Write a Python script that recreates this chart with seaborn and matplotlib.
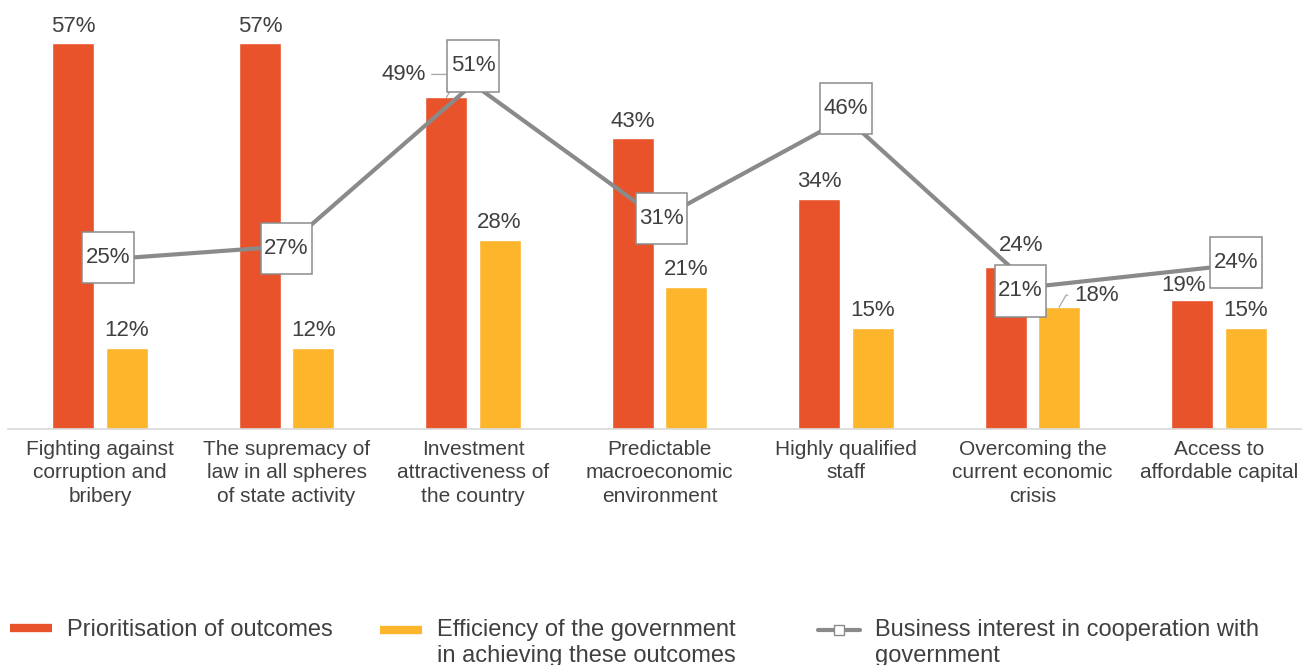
import numpy as np
import pandas as pd
import matplotlib
matplotlib.use("Agg")
import matplotlib.pyplot as plt
from matplotlib.lines import Line2D
from matplotlib.path import Path
from matplotlib.legend_handler import HandlerLine2D
import seaborn as sns

categories = [
    "Fighting against\ncorruption and\nbribery",
    "The supremacy of\nlaw in all spheres\nof state activity",
    "Investment\nattractiveness of\nthe country",
    "Predictable\nmacroeconomic\nenvironment",
    "Highly qualified\nstaff",
    "Overcoming the\ncurrent economic\ncrisis",
    "Access to\naffordable capital",
]
prioritisation = [57, 57, 49, 43, 34, 24, 19]
efficiency = [12, 12, 28, 21, 15, 18, 15]
business_interest = [25, 27, 51, 31, 46, 21, 24]

series_names = ["Prioritisation of outcomes",
                "Efficiency of the government\nin achieving these outcomes"]
line_name = "Business interest in cooperation with\ngovernment"

RED = "#E8532B"
YELLOW = "#FDB52B"
GREY_LINE = "#8a8a8a"
TEXT = "#404040"

sns.set_theme(style="white")
plt.rcParams["font.family"] = ["Liberation Sans", "DejaVu Sans"]
plt.rcParams["text.color"] = TEXT

df = pd.DataFrame({
    "category": categories * 2,
    "series": [series_names[0]] * len(categories) + [series_names[1]] * len(categories),
    "value": prioritisation + efficiency,
})

fig = plt.figure(figsize=(13.02, 6.65), dpi=100)
ax = fig.add_axes([8 / 1302, (665 - 429) / 665, (1302 - 8) / 1302, (429 - 23) / 665])

sns.barplot(data=df, x="category", y="value", hue="series",
            palette=[RED, YELLOW], width=0.57, gap=0.21,
            saturation=1, legend=False, ax=ax)

xs = np.arange(len(categories))
sns.lineplot(x=xs, y=business_interest, color=GREY_LINE, linewidth=3,
             ax=ax, legend=False, zorder=3)

ax.set_xlim(-0.4933, 6.445)
ax.set_ylim(0, 60)
ax.set_xlabel("")
ax.set_ylabel("")
ax.set_yticks([])
ax.tick_params(axis="x", length=0, pad=8, labelsize=15, labelcolor=TEXT)
for lab in ax.get_xticklabels():
    lab.set_linespacing(1.28)
for side in ["top", "left", "right"]:
    ax.spines[side].set_visible(False)
ax.spines["bottom"].set_color("#d9d9d9")
ax.spines["bottom"].set_linewidth(1.2)

half = 0.1425

# bar value labels: (dx, dy) pixel offsets of the text centre from the bar top
red_offsets = [(0, 17), (0, 17), (-43, 23), (0, 17), (0, 17), (15, 21), (-9, 15)]
yellow_offsets = [(0, 17), (0, 17), (0, 17), (0, 17), (0, 17), (37, 12), (0, 17)]
leader_red = {2}
leader_yellow = {5}

def bar_label(x, v, off, leader):
    kw = dict(xy=(x, v), xytext=off, textcoords="offset pixels",
              ha="center", va="center", fontsize=16, color=TEXT, zorder=6)
    if leader:
        kw["arrowprops"] = dict(arrowstyle="-", color="#a6a6a6", lw=0.9,
                                shrinkA=2, shrinkB=0,
                                connectionstyle="angle,angleA=0,angleB=60,rad=0")
    ax.annotate(f"{v}%", **kw)

for i, v in enumerate(prioritisation):
    bar_label(i - half, v, red_offsets[i], i in leader_red)
for i, v in enumerate(efficiency):
    bar_label(i + half, v, yellow_offsets[i], i in leader_yellow)

def label_box(x0, y0, width, height, mutation_size):
    padx = 0.15 * mutation_size
    pady = 0.68 * mutation_size
    x0, y0 = x0 - padx, y0 - pady
    x1, y1 = x0 + width + 2 * padx, y0 + height + 2 * pady
    return Path([(x0, y0), (x1, y0), (x1, y1), (x0, y1), (x0, y0)], closed=True)

box_offsets = [(8, 2), (0, -2), (0, 18), (2, 1), (0, 9), (-12, -4), (17, 4)]
for i, v in enumerate(business_interest):
    ax.annotate(f"{v}%", xy=(i, v), xytext=box_offsets[i], textcoords="offset pixels",
                ha="center", va="center", fontsize=16, color=TEXT, zorder=7,
                bbox=dict(boxstyle=label_box, fc="white", ec="#8c8c8c", lw=1.1))


class TopAlignedLine(HandlerLine2D):
    """Legend line handler that lifts the key to the first text line."""

    def __init__(self, lift=0.0, **kw):
        super().__init__(**kw)
        self.lift = lift

    def create_artists(self, legend, orig_handle, xdescent, ydescent,
                       width, height, fontsize, trans):
        return super().create_artists(legend, orig_handle, xdescent,
                                      ydescent - 2 * self.lift, width, height,
                                      fontsize, trans)


# legend entries placed individually along the bottom
legend_items = [
    (Line2D([0], [0], color=RED, lw=6, solid_capstyle="butt"), series_names[0], 10, 0),
    (Line2D([0], [0], color=YELLOW, lw=6, solid_capstyle="butt"), series_names[1], 380, 9.5),
    (Line2D([0], [0], color=GREY_LINE, lw=3, marker="s", markersize=7,
            markerfacecolor="white", markeredgecolor=GREY_LINE), line_name, 818, 9.5),
]
for handle, text, px, lift in legend_items:
    fig.legend([handle], [text], loc="upper left",
               bbox_to_anchor=(px / 1302, 1 - 619 / 665),
               frameon=False, handlelength=1.78, handletextpad=0.64,
               borderpad=0, borderaxespad=0, labelspacing=0,
               handler_map={Line2D: TopAlignedLine(lift=lift)},
               prop={"family": ["Liberation Sans", "DejaVu Sans"], "size": 17})
for leg in fig.legends:
    for t in leg.get_texts():
        t.set_color(TEXT)
        t.set_linespacing(1.22)

fig.savefig("out.png", dpi=100)
